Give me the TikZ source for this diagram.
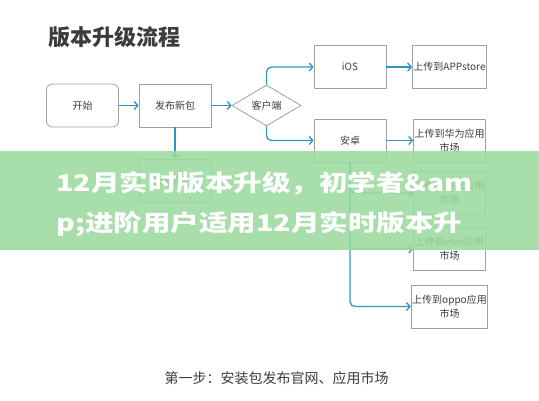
\documentclass[tikz,border=0pt]{standalone}
\usepackage{fontspec}
\setmainfont{Noto Sans CJK SC}
\usetikzlibrary{arrows.meta,shapes.geometric}
\definecolor{flowblue}{RGB}{45,150,195}
\definecolor{boxgray}{RGB}{160,160,160}
\definecolor{textgray}{RGB}{60,60,60}
\definecolor{bandgreen}{RGB}{156,218,158}

\begin{document}
\begin{tikzpicture}[x=1pt,y=-1pt, every node/.style={text=textgray, font=\fontsize{10}{14}\selectfont}]
			\tikzstyle{myboxstyle} = [draw=boxgray, line width=0.8pt, minimum width=72pt, minimum height=43pt, inner sep=1pt, align=center]
			\tikzstyle{myedgestyle} = [-{Straight Barb[length=3.5pt,width=8pt]}, draw=flowblue, line width=1.3pt, rounded corners=5pt]
			
			\useasboundingbox (0,0) rectangle (539,400);
			
			\node [anchor=west, font=\fontsize{22}{22}\selectfont\bfseries] (T) at (45,37) {版本升级流程};
			
			\node [myboxstyle, rounded corners=6pt] (A) at (82.5,105.5) {开始};
			\node [myboxstyle] (B) at (175,105.5) {发布新包};
			\node [draw=boxgray, line width=0.8pt, diamond, aspect=1.68, minimum width=69pt, minimum height=41pt, inner sep=0pt] (C) at (266.5,105.5) {客户端};
			\node [myboxstyle] (F) at (175,180.5) {官网下载包};
			
			\node [myboxstyle] (D1) at (350,67) {iOS};
			\node [myboxstyle] (D2) at (350,140.5) {安卓};
			
			\node [myboxstyle] (E1) at (449.5,67) {上传到APPstore};
			\node [myboxstyle] (E2) at (449.5,140.5) {上传到华为应用\\市场};
			\node [myboxstyle] (E3) at (449.5,193) {上传到小米应用\\市场};
			\node [myboxstyle] (E4) at (449.5,249) {上传到vivo应用\\市场};
			\node [myboxstyle] (E5) at (449.5,306.5) {上传到oppo应用\\市场};
			
			\node [font=\fontsize{14}{14}\selectfont] (G) at (276.5,378) {第一步：安装包发布官网、应用市场};
			
			\draw [myedgestyle] (A) -- (B);
			\draw [myedgestyle] (B) -- (C);
			\draw [myedgestyle] (B) -- (F);
			\draw [myedgestyle] (C.north) |- (D1);
			\draw [myedgestyle] (C.south) |- (D2);
			\draw [myedgestyle] (D1) -- (E1);
			\draw [myedgestyle] (D2) -- (E2);
			\draw [myedgestyle] (D2.south) |- (E3);
			\draw [myedgestyle] (D2.south) |- (E4);
			\draw [myedgestyle] (D2.south) |- (E5);
			
			\fill [bandgreen, fill opacity=0.88] (0,151) rectangle (539,250);
			\node [anchor=west, text=white, font=\fontsize{23}{23}\selectfont\bfseries] (H1) at (53,183) {\scalebox{1.24}[1]{12月实时版本升级，初学者\&am}};
			\node [anchor=west, text=white, font=\fontsize{23}{23}\selectfont\bfseries] (H2) at (53,224) {\scalebox{1.24}[1]{p;进阶用户适用12月实时版本升}};
			
\end{tikzpicture}
\end{document}
